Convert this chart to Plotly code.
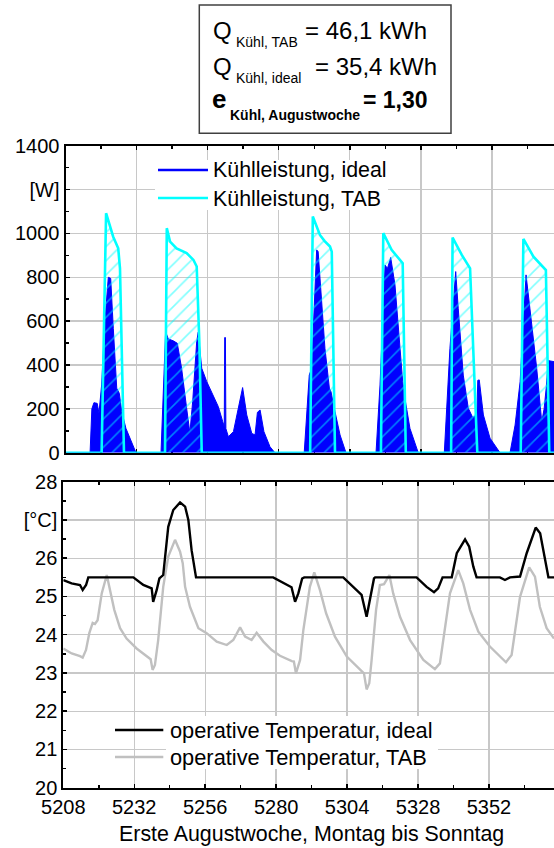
import plotly.graph_objects as go

# ---------------- data ----------------
# Kühlleistung, ideal  [W]
ideal_power_h = [5208, 5216.3, 5216.9, 5217.6, 5218.7, 5219.3, 5220.2, 5221.3, 5222.45, 5223.26, 5224.14,
                 5225.3, 5226.17, 5227.0, 5228.4, 5230.35, 5231.8,
                 5240.25, 5241.0, 5241.8, 5242.7, 5244.4, 5245.75, 5247.2, 5248.9, 5250.0, 5250.95, 5252.3,
                 5252.8, 5254.0, 5255.7, 5257.9, 5259.6, 5261.1, 5261.6, 5261.75, 5262.0, 5262.15, 5263.0,
                 5264.7, 5266.35, 5267.8, 5269.2, 5270.9, 5272.0, 5272.8, 5273.7, 5275.0, 5277.05, 5278.7,
                 5288.6, 5290.3, 5291.1, 5291.9, 5292.8, 5293.3, 5294.5, 5295.6, 5297.1, 5297.65, 5299.0,
                 5300.7, 5302.7,
                 5312.85, 5314.2, 5315.9, 5316.7, 5317.8, 5319.25, 5320.95, 5321.85, 5322.6, 5324.3, 5327.1,
                 5335.9, 5337.8, 5339.75, 5340.6, 5342.3, 5344.0, 5345.5, 5346.9, 5347.2, 5347.7, 5349.1,
                 5351.35, 5354.7,
                 5358.1, 5359.8, 5361.5, 5363.5, 5364.8, 5367.1, 5368.8, 5369.6, 5370.3, 5371.0, 5373.0]
ideal_power = [0, 0, 200, 228, 225, 180, 309, 598, 800, 795, 567,
               294, 271, 187, 111, 50, 0,
               0, 300, 552, 519, 510, 499, 385, 203, 90, 234, 506,
               549, 385, 324, 263, 210, 141, 120, 525, 525, 110, 73,
               96, 203, 297, 172, 88, 81, 184, 195, 96, 27, 0,
               0, 354, 385, 659, 925, 917, 689, 476, 294, 278, 187,
               81, 0,
               0, 309, 856, 840, 890, 765, 461, 324, 248, 111, 0,
               0, 476, 826, 659, 354, 203, 160, 175, 330, 332, 172,
               66, 0,
               0, 126, 324, 811, 659, 385, 141, 200, 294, 420, 415]

# Kühlleistung, TAB  [W]
tab_power_h = [5208, 5220.2, 5221.7, 5223.0, 5224.1, 5225.8, 5226.4, 5227.75,
               5241.6, 5242.2, 5243.3, 5245.5, 5248.9, 5251.2, 5252.3, 5253.2, 5254.0,
               5290.6, 5291.5, 5293.9, 5295.5, 5297.3, 5297.9, 5299.0,
               5314.5, 5315.3, 5318.1, 5321.85, 5322.9,
               5338.2, 5338.7, 5341.8, 5344.6, 5347.05,
               5361.7, 5362.6, 5366.0, 5370.2, 5371.35, 5373.0]
tab_power = [0, 0, 1092, 1031, 985, 932, 841, 0,
             0, 1024, 963, 932, 910, 879, 849, 500, 0,
             0, 1077, 993, 965, 940, 917, 0,
             0, 1001, 925, 864, 0,
             0, 981, 902, 841, 0,
             0, 975, 894, 833, 0, 0]

# operative Temperatur, ideal  [°C]
ideal_temp_h = [5208, 5210.8, 5213.65, 5214.56, 5215.7, 5216.46, 5231.7, 5235.06, 5237.9, 5238.4, 5239.6,
                5240.5, 5241.8, 5243.5, 5245.2, 5247.5, 5249.2, 5250.3, 5251.4, 5252.9, 5279.0, 5285.2,
                5286.4, 5287.5, 5288.8, 5289.5, 5302.7, 5308.9, 5310.6, 5311.7, 5313.1, 5313.5, 5327.5,
                5330.9, 5333.4, 5334.8, 5336.3, 5339.4, 5341.1, 5343.9, 5345.3, 5346.7, 5347.8, 5355.7,
                5357.4, 5359.1, 5362.5, 5364.75, 5367.8, 5369.3, 5370.9, 5372.1, 5374.0]
ideal_temp = [25.43, 25.34, 25.30, 25.17, 25.30, 25.50, 25.50, 25.30, 25.21, 24.86, 25.17,
              25.47, 25.56, 26.82, 27.26, 27.46, 27.35, 27.00, 26.21, 25.50, 25.50, 25.24,
              24.86, 25.08, 25.47, 25.50, 25.50, 25.04, 24.47, 24.91, 25.47, 25.50, 25.50,
              25.25, 25.11, 25.21, 25.50, 25.50, 26.13, 26.49, 26.30, 25.78, 25.50, 25.50,
              25.43, 25.50, 25.52, 26.13, 26.80, 26.65, 25.95, 25.50, 25.50]

# operative Temperatur, TAB  [°C]
tab_temp_h = [5208, 5210.84, 5213.65, 5214.56, 5215.68, 5216.8, 5217.94, 5218.7, 5219.6, 5221.0, 5222.7,
              5223.8, 5225.25, 5227.2, 5229.4, 5232.8, 5236.2, 5237.55, 5238.2, 5239.0, 5240.1, 5241.8,
              5243.5, 5245.8, 5247.5, 5248.4, 5249.2, 5250.85, 5253.7, 5256.5, 5259.9, 5263.3, 5265.5,
              5267.8, 5269.5, 5271.7, 5273.4, 5275.7, 5278.5, 5281.3, 5285.3, 5286.0, 5286.7, 5288.1,
              5289.2, 5290.3, 5291.4, 5292.9, 5294.8, 5296.9, 5299.9, 5303.9, 5308.35, 5309.7, 5310.6,
              5311.5, 5312.3, 5313.8, 5315.1, 5316.5, 5318.3, 5319.6, 5321.9, 5325.3, 5329.8, 5333.7,
              5335.4, 5337.1, 5338.8, 5341.6, 5343.3, 5345.6, 5348.4, 5352.3, 5357.75, 5359.65, 5361.1,
              5362.5, 5365.6, 5367.55, 5369.2, 5371.5, 5374.0]
tab_temp = [23.64, 23.51, 23.44, 23.40, 23.60, 24.04, 24.31, 24.28, 24.38, 25.08, 25.56,
            25.17, 24.65, 24.17, 23.90, 23.64, 23.43, 23.36, 23.08, 23.21, 23.86, 25.25,
            26.04, 26.48, 26.17, 25.87, 25.25, 24.73, 24.17, 24.04, 23.82, 23.73, 23.86,
            24.19, 23.95, 23.86, 24.05, 23.82, 23.60, 23.45, 23.31, 23.30, 22.99, 23.34,
            24.12, 24.73, 25.25, 25.63, 25.17, 24.56, 23.95, 23.43, 23.08, 22.99, 22.57,
            22.73, 23.34, 24.65, 25.30, 25.32, 25.56, 25.08, 24.47, 23.86, 23.34, 23.10,
            23.25, 24.21, 25.08, 25.69, 25.34, 24.65, 24.08, 23.69, 23.28, 23.47, 24.21,
            24.99, 25.76, 25.52, 24.73, 24.17, 23.90]

x_ticks = [5208, 5232, 5256, 5280, 5304, 5328, 5352]
p_ticks = [0, 200, 400, 600, 800, 1000, 1200, 1400]
p_ticktext = ["0", "200", "400", "600", "800", "1000", "[W]", "1400"]
t_ticks = [20, 21, 22, 23, 24, 25, 26, 27, 28]
t_ticktext = ["20", "21", "22", "23", "24", "25", "26", "[°C]", "28"]

leg_power = ["Kühlleistung, ideal", "Kühlleistung, TAB"]
leg_temp = ["operative Temperatur, ideal", "operative Temperatur, TAB"]
x_title = "Erste Augustwoche, Montag bis Sonntag"

# ---------------- layout helpers ----------------
W, H = 554, 848
FONT = "Liberation Sans, Arial, sans-serif"


def px(x):
    return x / W


def py(y):
    return 1 - y / H


BLUE = "#0000ff"
CYAN = "#00ffff"
GRID = "#c8c8c8"
GRAY = "#c0c0c0"

fig = go.Figure()

fig.add_trace(go.Scatter(x=ideal_power_h, y=ideal_power, mode="lines", fill="tozeroy",
                         line=dict(color=BLUE, width=1), fillcolor=BLUE, showlegend=False,
                         xaxis="x", yaxis="y"))
fig.add_trace(go.Scatter(x=tab_power_h, y=tab_power, mode="lines", fill="tozeroy",
                         line=dict(color=CYAN, width=2.6), fillcolor="rgba(0,0,0,0)",
                         fillpattern=dict(shape="/", fgcolor=CYAN, bgcolor="rgba(0,0,0,0)",
                                          size=10, solidity=0.16, fillmode="overlay"),
                         cliponaxis=False, showlegend=False, xaxis="x", yaxis="y"))
fig.add_trace(go.Scatter(x=tab_temp_h, y=tab_temp, mode="lines",
                         line=dict(color=GRAY, width=2.4), showlegend=False,
                         xaxis="x2", yaxis="y2"))
fig.add_trace(go.Scatter(x=ideal_temp_h, y=ideal_temp, mode="lines",
                         line=dict(color="black", width=2.4), showlegend=False,
                         xaxis="x2", yaxis="y2"))

tickfont = dict(family=FONT, size=20, color="black")
common_x = dict(showgrid=True, gridcolor=GRID, gridwidth=1.3, tickvals=x_ticks,
                showline=True, linecolor="black", linewidth=2, mirror="ticks",
                ticks="inside", ticklen=4, tickcolor="black", tickwidth=1.5,
                minor=dict(dtick=12, tick0=5208, ticks="inside", ticklen=3, tickcolor="black",
                           tickwidth=1.5, showgrid=False),
                zeroline=False, tickfont=tickfont, automargin=False)
common_y = dict(showgrid=True, gridcolor=GRID, gridwidth=1.3,
                showline=True, linecolor="black", linewidth=2, mirror=False,
                ticks="inside", ticklen=4, tickcolor="black", tickwidth=1.5,
                zeroline=False, tickfont=tickfont, automargin=False)

fig.update_layout(
    width=W, height=H, autosize=False,
    margin=dict(l=0, r=0, t=0, b=0, pad=0),
    paper_bgcolor="white", plot_bgcolor="white",
    showlegend=False,
    xaxis=dict(common_x, domain=[px(65.5), 1], range=[5208, 5372.94], anchor="y",
               showticklabels=False, layer="below traces"),
    yaxis=dict(common_y, domain=[py(452.7), py(145.7)], range=[0, 1400], anchor="x",
               tickvals=p_ticks, ticktext=p_ticktext,
               minor=dict(dtick=100, tick0=0, ticks="inside", ticklen=3, tickcolor="black",
                          tickwidth=1.5, showgrid=False)),
    xaxis2=dict(common_x, domain=[px(63.3), 1], range=[5208, 5373.99], anchor="y2"),
    yaxis2=dict(common_y, domain=[py(787.7), py(481.7)], range=[20, 28], anchor="x2",
                tickvals=t_ticks, ticktext=t_ticktext,
                minor=dict(dtick=0.5, tick0=20, ticks="inside", ticklen=3, tickcolor="black",
                           tickwidth=1.5, showgrid=False)),
)

shapes = []
annots = []

# info box
shapes.append(dict(type="rect", xref="paper", yref="paper", x0=px(199.3), x1=px(451),
                   y0=py(133.3), y1=py(5), line=dict(color="#404040", width=1.5), fillcolor="white"))


def txt(x, y, s, size, bold=False, anchor="left"):
    if bold:
        s = "<b>" + s + "</b>"
    annots.append(dict(x=px(x), y=py(y - 0.35 * size), xref="paper", yref="paper", text=s,
                       showarrow=False, xanchor=anchor, yanchor="middle",
                       font=dict(family=FONT, size=size, color="black"), borderpad=0))


MAIN = 24
SUB = 14
txt(211.5, 39.3, "Q", MAIN)
txt(234.5, 47.3, "Kühl, TAB", SUB)
txt(304, 39.3, "= 46,1 kWh", MAIN)
txt(211.5, 75, "Q", MAIN)
txt(234.5, 83.3, "Kühl, ideal", SUB)
txt(314, 75, "= 35,4 kWh", MAIN)
txt(210.5, 107.7, "e", 26, bold=True)
txt(229, 120, "Kühl, Augustwoche", SUB, bold=True)
txt(362, 107.7, "= 1,30", 23, bold=True)

# power legend
shapes.append(dict(type="rect", xref="paper", yref="paper", x0=px(155), x1=px(388),
                   y0=py(210), y1=py(160), line=dict(width=0), fillcolor="white"))
shapes.append(dict(type="line", xref="paper", yref="paper", x0=px(158), x1=px(208),
                   y0=py(170), y1=py(170), line=dict(color=BLUE, width=2.6)))
shapes.append(dict(type="line", xref="paper", yref="paper", x0=px(158), x1=px(208),
                   y0=py(198), y1=py(198), line=dict(color=CYAN, width=2.6)))
txt(212, 177.7, leg_power[0], 21.4)
txt(212, 206, leg_power[1], 21.4)

# temperature legend
shapes.append(dict(type="rect", xref="paper", yref="paper", x0=px(166), x1=px(438),
                   y0=py(769), y1=py(716), line=dict(width=0), fillcolor="white"))
shapes.append(dict(type="line", xref="paper", yref="paper", x0=px(115), x1=px(163.3),
                   y0=py(730), y1=py(730), line=dict(color="black", width=2.4)))
shapes.append(dict(type="line", xref="paper", yref="paper", x0=px(115), x1=px(163.3),
                   y0=py(757), y1=py(757), line=dict(color=GRAY, width=2.4)))
txt(169, 738.3, leg_temp[0], 21.8)
txt(169, 765.5, leg_temp[1], 21.8)

# x axis title
txt(311, 841.7, x_title, 21.4, anchor="center")

fig.update_layout(shapes=shapes, annotations=annots)

fig.write_html("out.html",
               config={"displayModeBar": False, "staticPlot": True},
               post_script="document.body.style.margin='0px';document.body.style.padding='0px';"
                           "document.body.style.overflow='hidden';")
